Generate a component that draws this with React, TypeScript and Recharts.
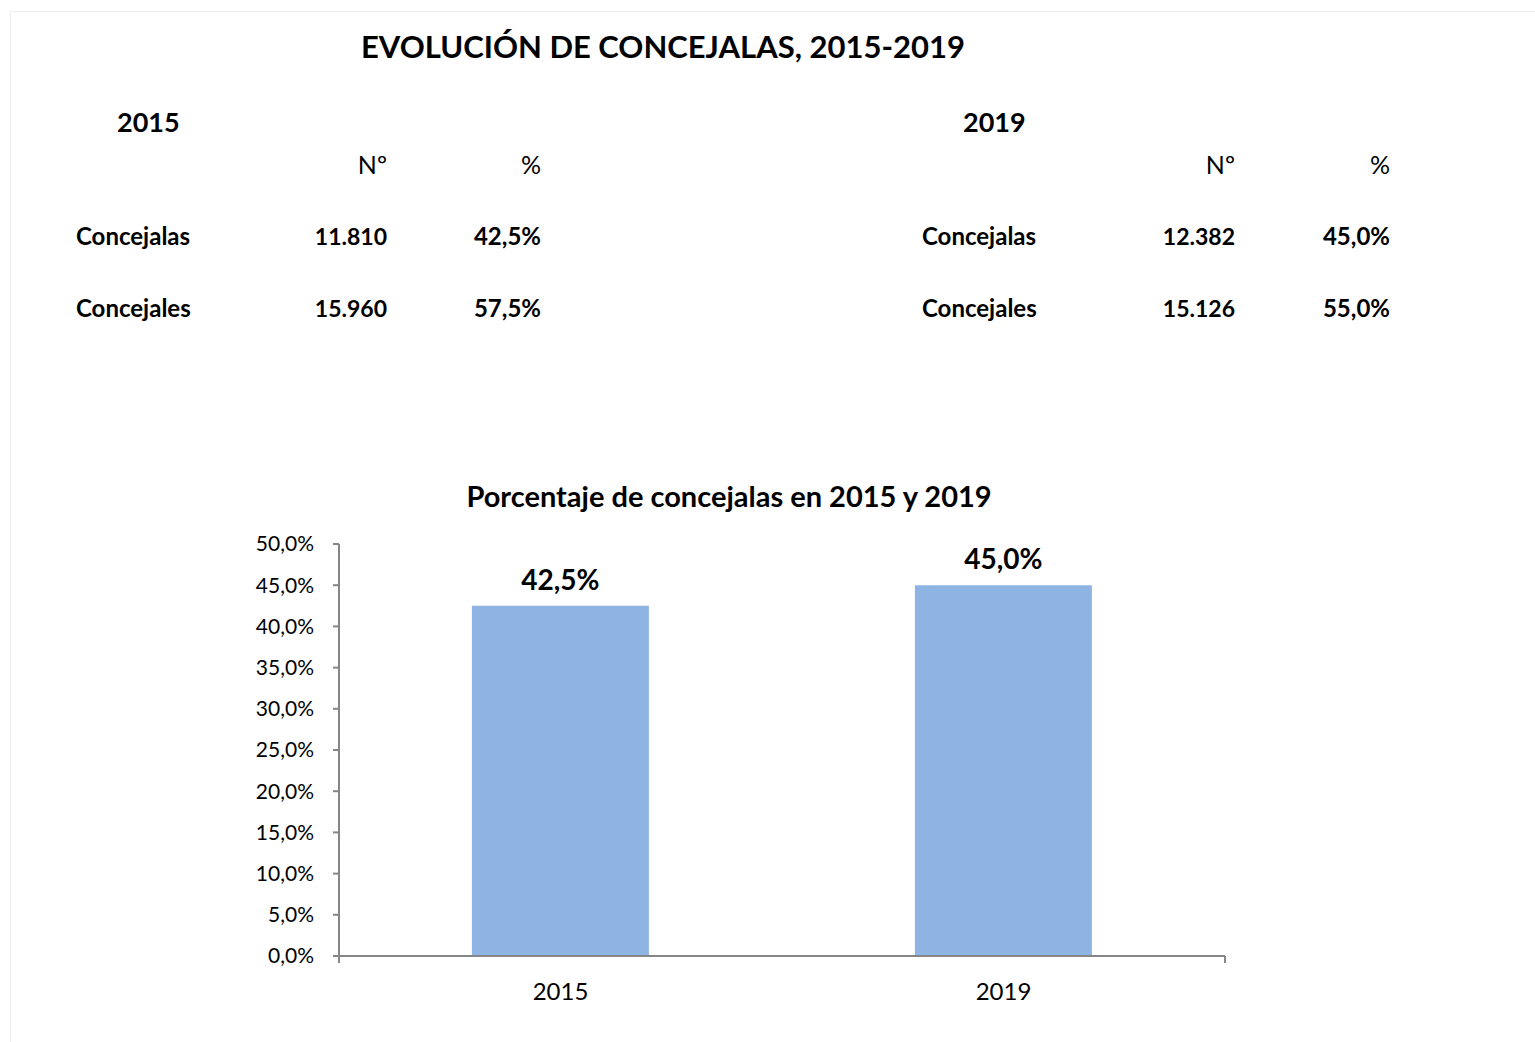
import React from "react";
import { Bar, BarChart, LabelList, XAxis, YAxis } from "recharts";

const years = ["2015", "2019"];
const concejalas = [11810, 12382];
const concejales = [15960, 15126];
const pctConcejalas = [42.5, 45.0];
const pctConcejales = [57.5, 55.0];
const yTicks = [0, 5, 10, 15, 20, 25, 30, 35, 40, 45, 50];

const FONT = "Lato, 'Open Sans', sans-serif";
const AXIS = "#868686";

const fmtNum = (n: number) => String(n).replace(/\B(?=(\d{3})+(?!\d))/g, ".");
const fmtPct = (n: number) => n.toFixed(1).replace(".", ",") + "%";

const chartData = years.map((y, i) => ({ year: y, pct: pctConcejalas[i] }));

function Txt({
  x,
  y,
  anchor = "start",
  size,
  bold,
  children,
}: {
  x: number;
  y: number;
  anchor?: "start" | "middle" | "end";
  size: number;
  bold?: boolean;
  children: React.ReactNode;
}) {
  const tx = anchor === "start" ? "0" : anchor === "middle" ? "-50%" : "-100%";
  return (
    <div
      style={{
        position: "absolute",
        left: x,
        top: y,
        transform: `translate(${tx}, -50%)`,
        fontSize: size,
        fontWeight: bold ? 700 : 400,
        lineHeight: 1,
        whiteSpace: "nowrap",
        color: "#000",
      }}
    >
      {children}
    </div>
  );
}

// one year block of the table; offsets are the label/number/percent columns
function YearBlock({ i, labelX, numX, pctX }: { i: number; labelX: number; numX: number; pctX: number }) {
  return (
    <>
      <Txt x={labelX + 41} y={121} size={27} bold>
        {years[i]}
      </Txt>
      <Txt x={numX} y={164} size={25} anchor="end">
        Nº
      </Txt>
      <Txt x={pctX} y={164} size={25} anchor="end">
        %
      </Txt>
      <Txt x={labelX} y={236} size={24} bold>
        Concejalas
      </Txt>
      <Txt x={numX} y={236} size={23} bold anchor="end">
        {fmtNum(concejalas[i])}
      </Txt>
      <Txt x={pctX} y={236} size={24} bold anchor="end">
        {fmtPct(pctConcejalas[i])}
      </Txt>
      <Txt x={labelX} y={308} size={24} bold>
        Concejales
      </Txt>
      <Txt x={numX} y={308} size={23} bold anchor="end">
        {fmtNum(concejales[i])}
      </Txt>
      <Txt x={pctX} y={308} size={24} bold anchor="end">
        {fmtPct(pctConcejales[i])}
      </Txt>
    </>
  );
}

export default function App() {
  return (
    <div
      style={{
        position: "absolute",
        left: 0,
        top: 0,
        width: 1535,
        height: 1042,
        background: "#fff",
        fontFamily: FONT,
        overflow: "hidden",
      }}
    >
      <div
        style={{
          position: "absolute",
          left: 10,
          top: 11,
          right: 0,
          bottom: 0,
          borderTop: "1px solid #eeeeee",
          borderLeft: "1px solid #eeeeee",
        }}
      />
      <Txt x={663} y={46} size={31} bold anchor="middle">
        EVOLUCIÓN DE CONCEJALAS, 2015-2019
      </Txt>
      <YearBlock i={0} labelX={76} numX={387} pctX={541} />
      <YearBlock i={1} labelX={922} numX={1235} pctX={1390} />

      <Txt x={729} y={495} size={29} bold anchor="middle">
        Porcentaje de concejalas en 2015 y 2019
      </Txt>

      <div style={{ position: "absolute", left: 0, top: 520 }}>
        <BarChart
          width={1535}
          height={497}
          data={chartData}
          barCategoryGap="30%"
          margin={{ top: 24, right: 310, bottom: 0, left: 259 }}
        >
          {/* axis line plus boundary ticks between categories, as in the spreadsheet chart */}
          <XAxis
            xAxisId="aTicks"
            type="number"
            domain={[0, 2]}
            ticks={[0, 1, 2]}
            height={1}
            axisLine={{ stroke: AXIS, strokeWidth: 2 }}
            tickFormatter={() => ""}
            tick={{ fontSize: 1 }}
            tickSize={7}
            tickLine={{ stroke: AXIS, strokeWidth: 2 }}
          />
          <XAxis
            xAxisId="zCat"
            dataKey="year"
            height={60}
            axisLine={false}
            tickLine={false}
            tickMargin={20}
            tick={{ fill: "#000", fontSize: 24, fontFamily: FONT }}
          />
          <YAxis
            domain={[0, 50]}
            ticks={yTicks}
            width={80}
            tickSize={6}
            tickMargin={19}
            tickFormatter={(v: number) => fmtPct(v)}
            axisLine={{ stroke: AXIS, strokeWidth: 2 }}
            tickLine={{ stroke: AXIS, strokeWidth: 2 }}
            tick={{ fill: "#000", fontSize: 21, fontFamily: FONT }}
          />
          <Bar dataKey="pct" xAxisId="zCat" fill="#8eb4e3" isAnimationActive={false}>
            <LabelList
              dataKey="pct"
              position="top"
              offset={16}
              formatter={(v: any) => fmtPct(Number(v))}
              style={{ fill: "#000", fontSize: 28, fontWeight: 700, fontFamily: FONT }}
            />
          </Bar>
        </BarChart>
      </div>
    </div>
  );
}
